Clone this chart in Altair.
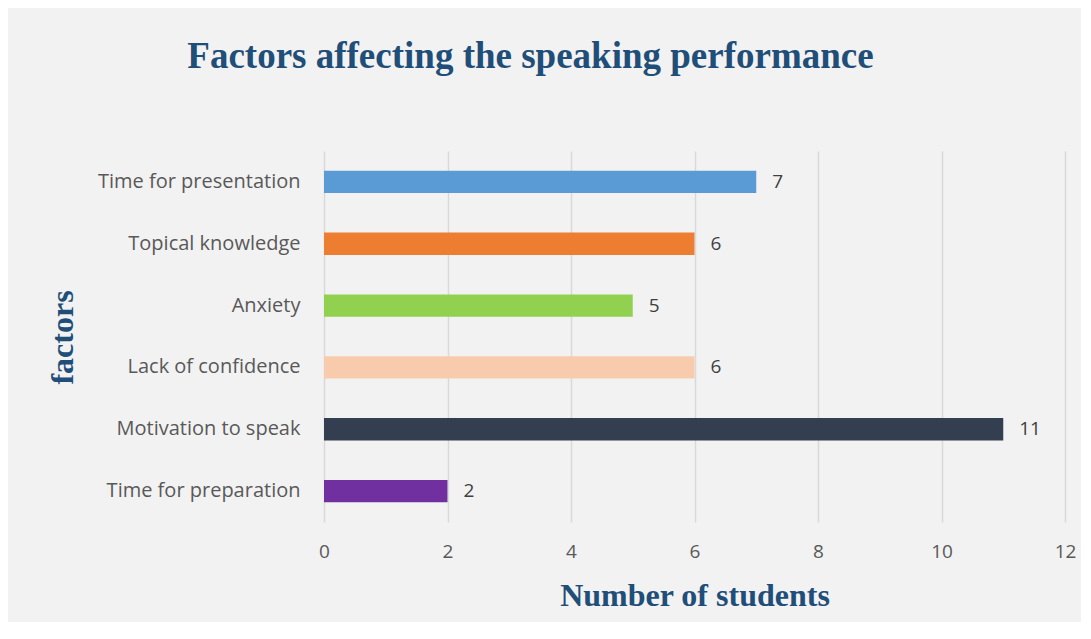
import altair as alt
import pandas as pd

factors = ["Time for presentation", "Topical knowledge", "Anxiety",
           "Lack of confidence", "Motivation to speak", "Time for preparation"]
students = [7, 6, 5, 6, 11, 2]
colors = ["#5b9bd5", "#ed7d31", "#92d050", "#f8cbad", "#333f50", "#7030a0"]
ticks = [0, 2, 4, 6, 8, 10, 12]

df = pd.DataFrame({"factor": factors, "students": students, "color": colors})

TITLE_C = "#1f4e79"
LABEL_FONT = "Open Sans"

y_enc = alt.Y("factor:N", sort=factors,
              axis=alt.Axis(title="factors", labelFont=LABEL_FONT, labelFontSize=20,
                            labelColor="#595959", labelPadding=24, labelLimit=320,
                            ticks=False, domain=False,
                            titleFont="Liberation Serif", titleFontSize=32, titleFontWeight="bold",
                            titleColor=TITLE_C, titleX=-262, titleY=186, titleAngle=-90,
                            titleAlign="center", titleBaseline="middle"),
              scale=alt.Scale(paddingInner=0.64, paddingOuter=0.32))
x_enc = alt.X("students:Q", scale=alt.Scale(domain=[0, 12]),
              axis=alt.Axis(title="Number of students", values=ticks, format="d",
                            labelFont=LABEL_FONT, labelFontSize=19, labelColor="#595959",
                            labelPadding=20, labelFlush=False, ticks=False, domain=False,
                            gridColor="#d9d9d9", gridWidth=1.5,
                            titleFont="Liberation Serif", titleFontSize=32, titleFontWeight="bold",
                            titleColor=TITLE_C, titleY=73, titleBaseline="middle"))

bars = alt.Chart(df).mark_bar().encode(
    y=y_enc, x=x_enc,
    color=alt.Color("color:N", scale=None),
)
labels = alt.Chart(df).mark_text(align="left", baseline="middle", dx=16,
                                 font=LABEL_FONT, fontSize=19, color="#404040").encode(
    y=alt.Y("factor:N", sort=factors),
    x=alt.X("students:Q"),
    text=alt.Text("students:Q"),
)

chart = (bars + labels).properties(
    width=741, height=371,
    title=alt.TitleParams("Factors affecting the speaking performance",
                          font="Liberation Serif", fontSize=37, fontWeight="bold",
                          color=TITLE_C, anchor="middle", dx=-164, offset=46,
                          baseline="alphabetic"),
    background="#f2f2f2",
    padding={"left": 316, "top": 143, "right": 16, "bottom": 100},
    autosize=alt.AutoSizeParams(type="none"),
).configure_view(stroke=None)

chart.save("out.html", embed_options={"renderer": "svg", "actions": False})
